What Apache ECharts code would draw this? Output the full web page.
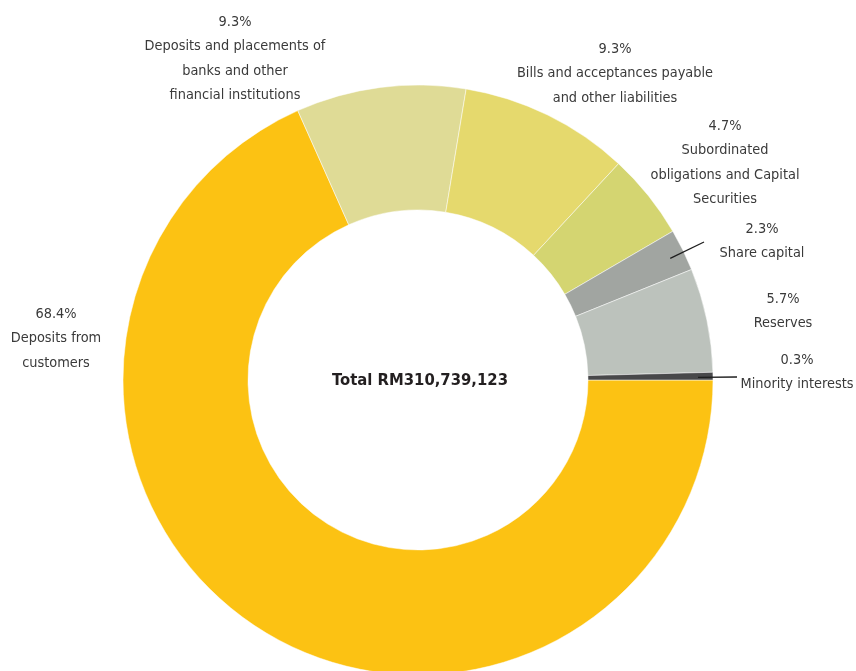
<!DOCTYPE html>
<html>
<head>
<meta charset="utf-8">
<style>
  html, body { margin: 0; padding: 0; background: #ffffff; }
  #chart { width: 856px; height: 671px; }
</style>
<script src="https://cdn.jsdelivr.net/npm/echarts@6/dist/echarts.min.js"></script>
</head>
<body>
<div id="chart"></div>
<script>
// Liability composition, in per cent of the total
const categories = [
  'Deposits from\ncustomers',
  'Deposits and placements of\nbanks and other\nfinancial institutions',
  'Bills and acceptances payable\nand other liabilities',
  'Subordinated\nobligations and Capital\nSecurities',
  'Share capital',
  'Reserves',
  'Minority interests'
];
const shares = [68.4, 9.3, 9.3, 4.7, 2.3, 5.7, 0.3];
const totalLabel = 'Total RM310,739,123';

// Slice colours, in the same order as the categories
const colors = ['#fcc213', '#dfdb96', '#e5d96d', '#d4d571', '#a1a5a1', '#bcc2bc', '#48484a'];

// Where each label block sits (centre x, top y); leader lines end at `to`
const labelSpots = [
  { x: 56, y: 302 },
  { x: 235, y: 10 },
  { x: 615, y: 37 },
  { x: 725, y: 114 },
  { x: 762, y: 217, to: [704, 242] },
  { x: 783, y: 287 },
  { x: 797, y: 348, to: [737, 377] }
];

const FONT = '"DejaVu Sans Condensed", "Liberation Sans Narrow", sans-serif';
const CX = 418, CY = 380, R_IN = 170, R_OUT = 295;

// Leader lines start inside the ring, at the middle angle of their slice
const total = shares.reduce((a, b) => a + b, 0);
const leaderLines = [];
let acc = 0;
shares.forEach((v, i) => {
  const mid = (acc + v / 2) / total * Math.PI * 2; // clockwise from 3 o'clock
  acc += v;
  const to = labelSpots[i].to;
  if (!to) return;
  const r = 280;
  leaderLines.push({
    type: 'line',
    silent: true,
    z: 10,
    shape: { x1: CX + r * Math.cos(mid), y1: CY + r * Math.sin(mid), x2: to[0], y2: to[1] },
    style: { stroke: '#1e1e1e', lineWidth: 1.3 }
  });
});

const chart = echarts.init(document.getElementById('chart'), null, { renderer: 'canvas' });

chart.setOption({
  backgroundColor: '#ffffff',
  animation: false,
  title: {
    text: totalLabel,
    left: CX - 3,
    top: CY - 4,
    textAlign: 'center',
    textVerticalAlign: 'middle',
    textStyle: {
      fontFamily: FONT,
      fontSize: 16.5,
      fontWeight: 'bold',
      color: '#231f20'
    }
  },
  graphic: leaderLines,
  series: [{
    type: 'pie',
    center: [CX, CY],
    radius: [R_IN, R_OUT],
    startAngle: 0,
    clockwise: true,
    minAngle: 1.5,
    avoidLabelOverlap: false,
    itemStyle: { borderColor: '#ffffff', borderWidth: 0.5 },
    label: {
      show: true,
      position: 'outside',
      fontFamily: FONT,
      fontSize: 14.4,
      lineHeight: 24.5,
      color: '#3a3a3a',
      align: 'center',
      formatter: p => p.value.toFixed(1) + '%\n' + p.name
    },
    labelLine: { show: false },
    labelLayout: params => {
      const s = labelSpots[params.dataIndex];
      return { x: s.x, y: s.y, align: 'center', verticalAlign: 'top' };
    },
    data: categories.map((name, i) => ({
      name,
      value: shares[i],
      itemStyle: { color: colors[i] }
    }))
  }]
});
</script>
</body>
</html>
